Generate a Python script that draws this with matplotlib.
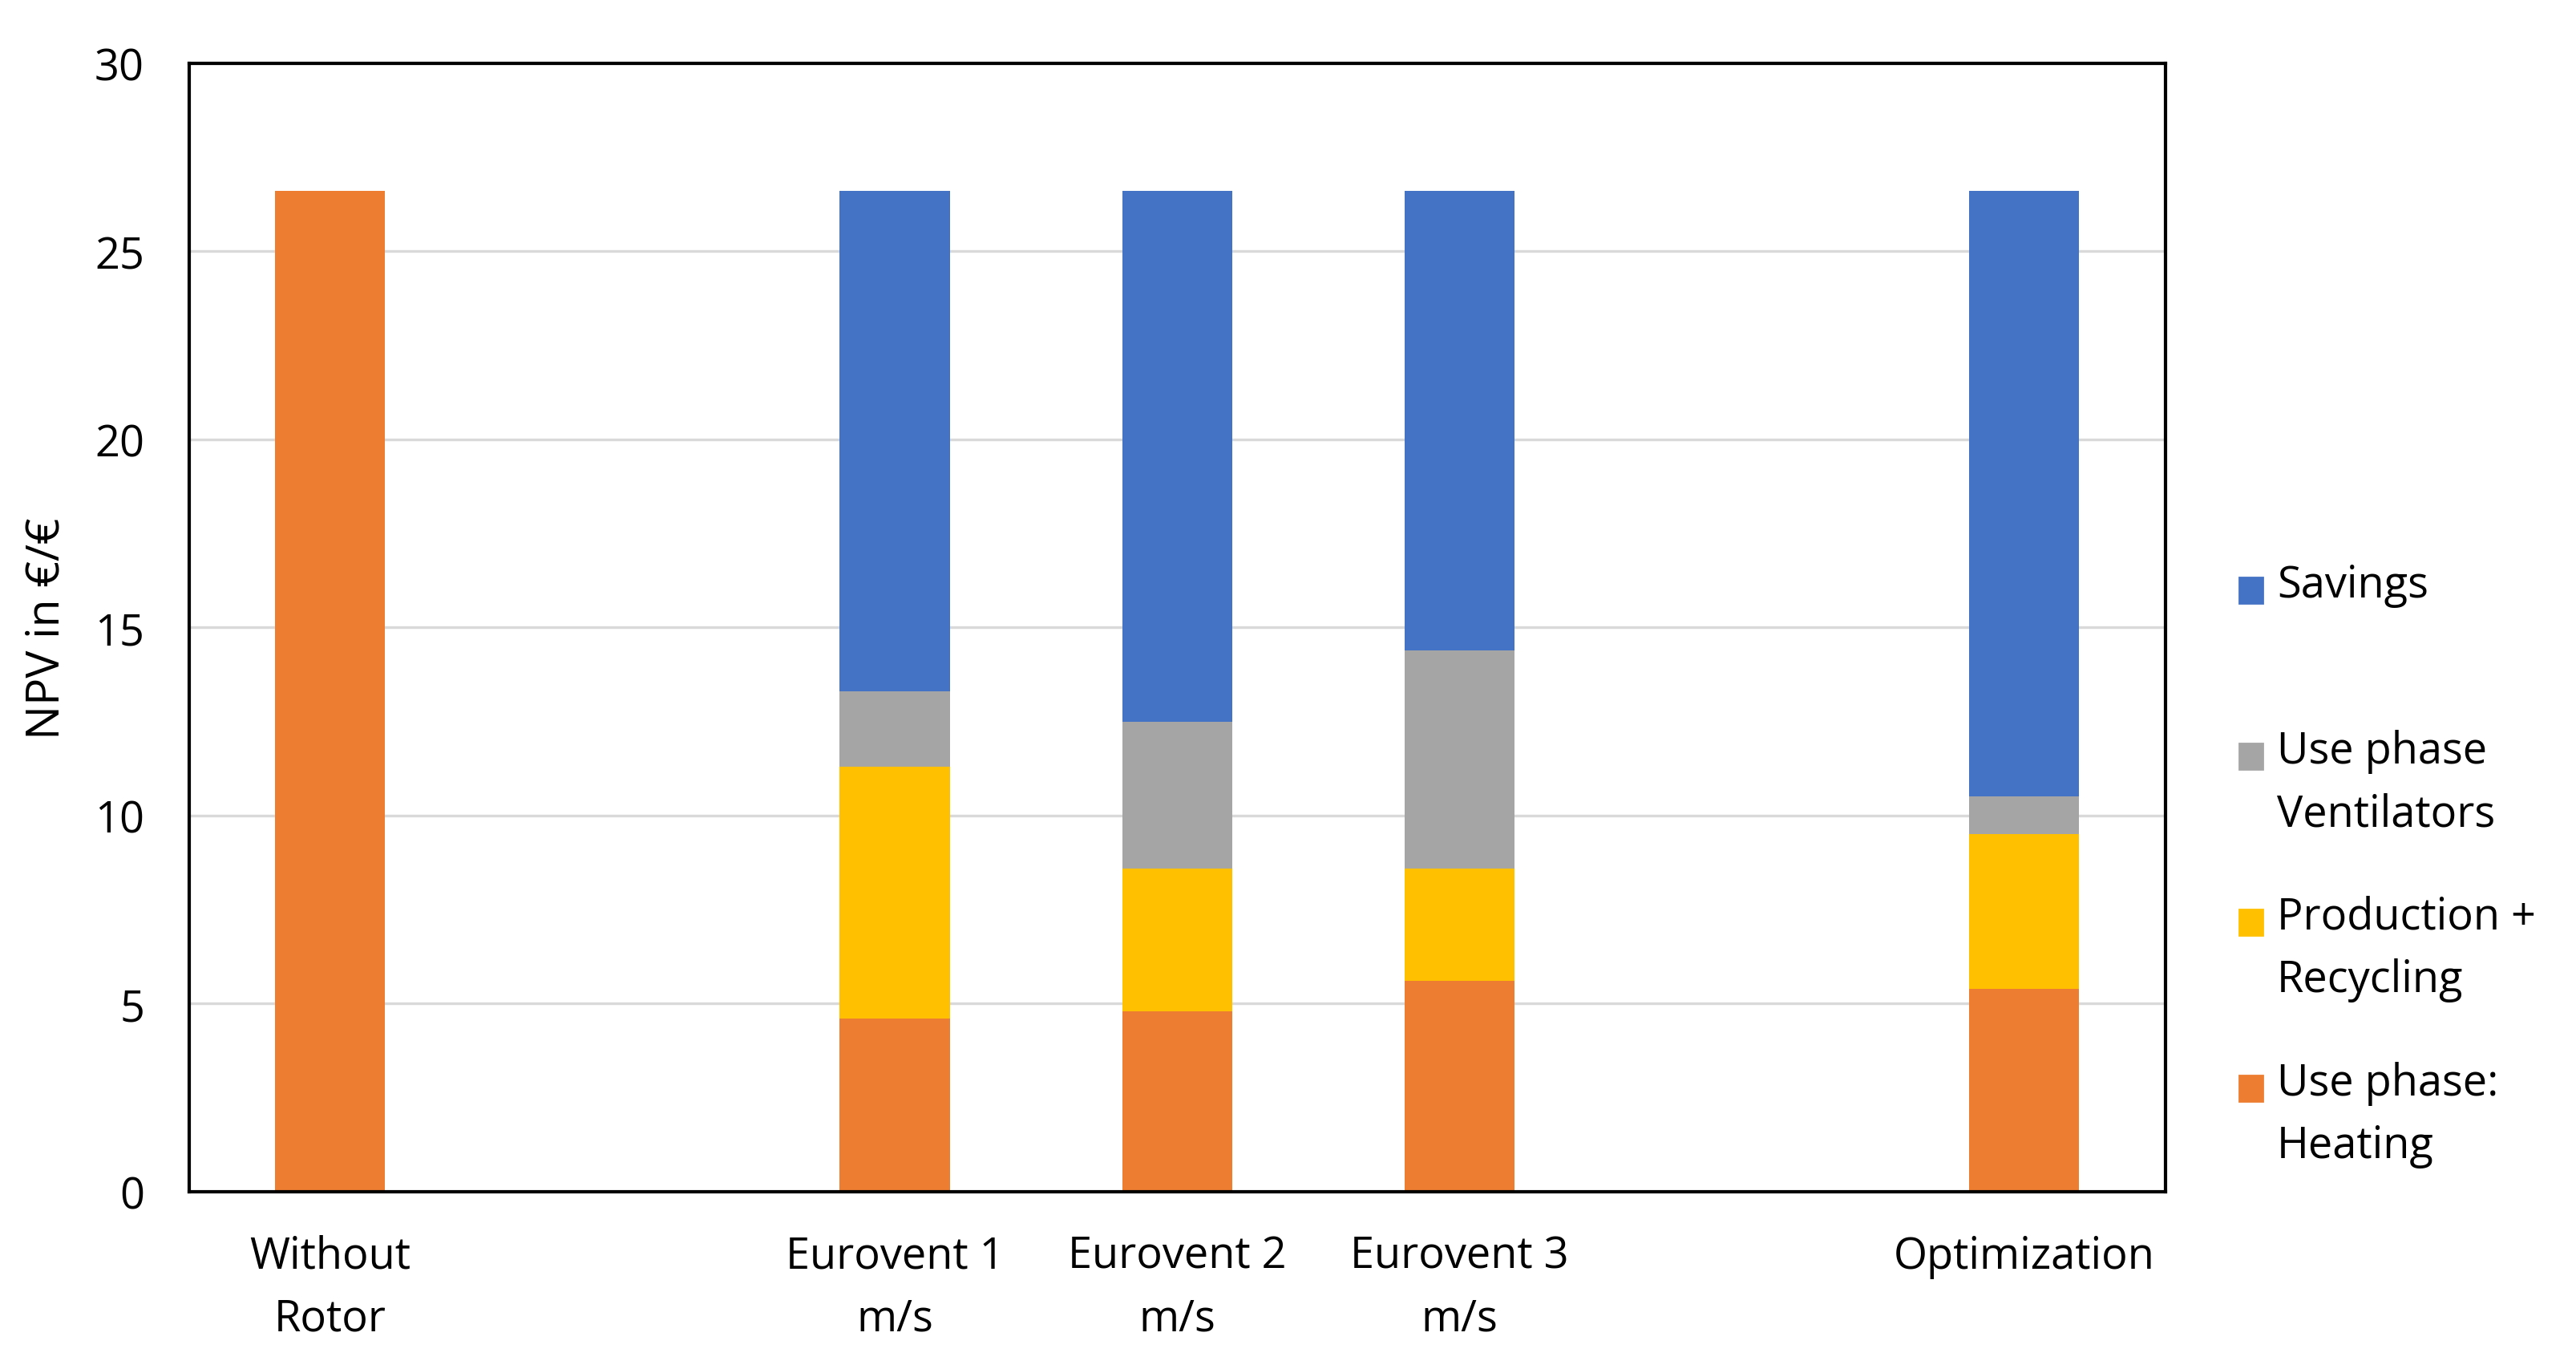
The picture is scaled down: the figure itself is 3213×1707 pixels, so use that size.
import numpy as np
import matplotlib
matplotlib.use('Agg')
import matplotlib.pyplot as plt
from matplotlib.patches import Rectangle

plt.rcParams['font.family'] = ['Open Sans', 'DejaVu Sans']

categories = ['Without\nRotor', '', 'Eurovent 1\nm/s', 'Eurovent 2\nm/s',
              'Eurovent 3\nm/s', '', 'Optimization']
heating = [26.6, np.nan, 4.6, 4.8, 5.6, np.nan, 5.4]
production = [0, np.nan, 6.7, 3.8, 3.0, np.nan, 4.1]
ventilators = [0, np.nan, 2.0, 3.9, 5.8, np.nan, 1.0]
savings = [0, np.nan, 13.3, 14.1, 12.2, np.nan, 16.1]

series_names = ['Use phase:\nHeating', 'Production +\nRecycling',
                'Use phase\nVentilators', 'Savings\n']
colors = ['#ED7D31', '#FFC000', '#A5A5A5', '#4472C4']
y_ticks = [0, 5, 10, 15, 20, 25, 30]

fig = plt.figure(figsize=(16.065, 8.54), dpi=200)
ax = fig.add_axes([0.0733, 0.1295, 0.7673, 0.8237])

x = np.arange(len(categories))
bottom = np.zeros(len(categories))
for vals, col in zip([heating, production, ventilators, savings], colors):
    v = np.nan_to_num(np.array(vals, dtype=float))
    ax.bar(x, v, width=0.39, bottom=bottom, color=col, zorder=3)
    bottom += v

ax.set_xlim(-0.5, len(categories) - 0.5)
ax.set_ylim(0, 30)
ax.set_yticks(y_ticks)
ax.set_xticks(x)
ax.set_xticklabels(categories, linespacing=1.55)
ax.tick_params(axis='both', length=0, labelsize=19.5, colors='black')
ax.tick_params(axis='x', pad=19)
ax.tick_params(axis='y', pad=20)
ax.yaxis.grid(True, color='#D9D9D9', linewidth=1.2, zorder=0)
ax.set_axisbelow(True)
for s in ax.spines.values():
    s.set_color('black')
    s.set_linewidth(1.5)
    s.set_zorder(5)
ax.set_ylabel('NPV in €/€', fontsize=20.5, labelpad=11)

# legend drawn by hand so the square sits at the first text line (Excel style)
legend_order = [3, 2, 1, 0]
y0 = 1 - 360 / 834
step = 101 / 834
for i, k in enumerate(legend_order):
    yy = y0 - i * step
    fig.patches.append(Rectangle((1363 / 1568, yy - 0.0095), 0.0092, 0.019,
                                 transform=fig.transFigure, color=colors[k]))
    fig.text(1386 / 1568, yy + 0.02, series_names[k], fontsize=19.5,
             va='top', ha='left', linespacing=1.55,
             transform=fig.transFigure)

fig.savefig('out.png', dpi=200)
